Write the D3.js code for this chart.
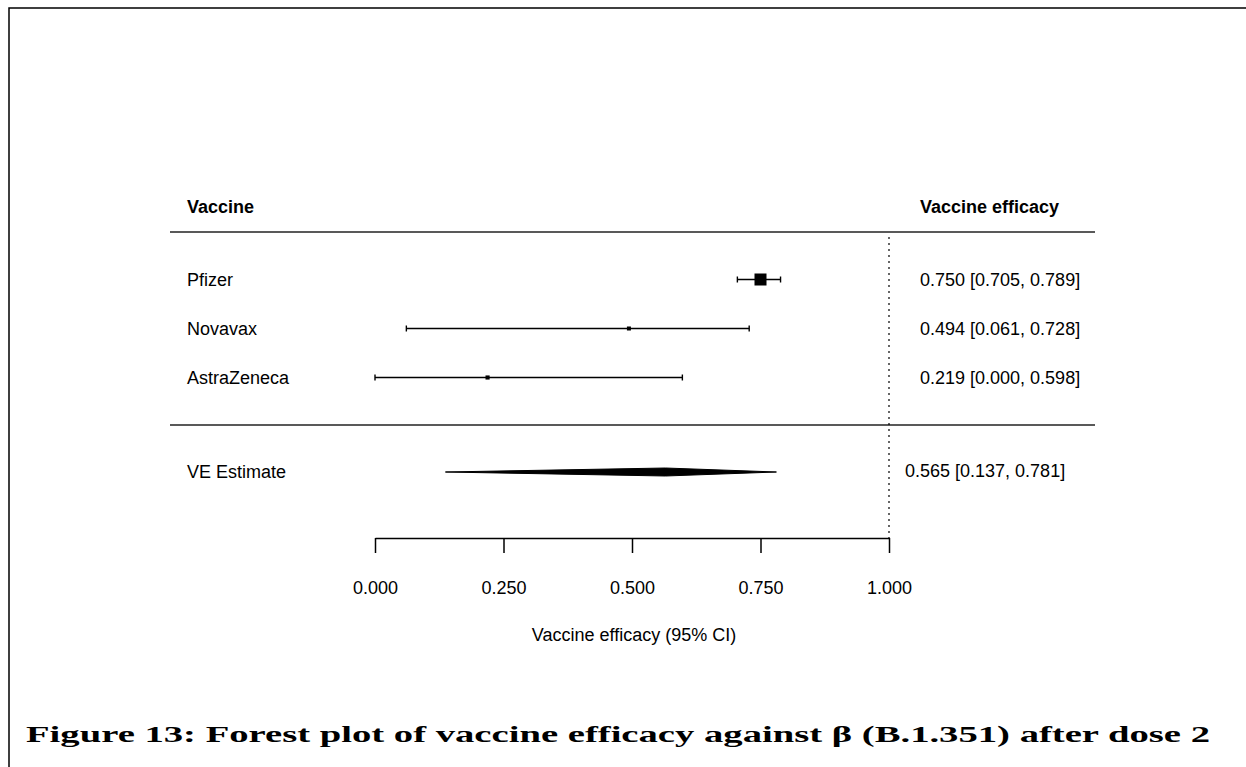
<!DOCTYPE html>
<html>
<head>
<meta charset="utf-8">
<script src="https://cdn.jsdelivr.net/npm/d3@7"></script>
<style>
  body { margin: 0; background: #fff; }
  svg { display: block; }
  .lbl { font-family: "Liberation Sans", Arial, sans-serif; font-size: 18px; fill: #000; }
</style>
</head>
<body>
<div id="chart"></div>
<script>
const vaccines = ["Pfizer", "Novavax", "AstraZeneca"];
const estimates = [0.750, 0.494, 0.219];
const lower = [0.705, 0.061, 0.000];
const upper = [0.789, 0.728, 0.598];

const summaryLabel = "VE Estimate";
const summary = [0.565, 0.137, 0.781]; // est, lb, ub

const ticks = [0, 0.25, 0.5, 0.75, 1];

const width = 1246;
const height = 767;

const svg = d3.select('#chart')
  .append('svg')
  .attr('width', width)
  .attr('height', height)

// page frame
svg.append('path')
  .attr('d', `M9,${height} V8 H${width}`)
  .attr('fill', 'none')
  .attr('stroke', '#000')
  .attr('stroke-width', 1.5)

const x = d3.scaleLinear().domain([0, 1]).range([375, 889]);
const y = d3.scaleBand().domain(vaccines).range([255, 402]);
const fmt = d3.format('.3f');

// box sizes from precision (1/se)
const prec = vaccines.map((d, i) => 3.92 / (upper[i] - lower[i]));
const size = d3.scaleLinear().domain(d3.extent(prec)).range([4, 12]);

// headers
svg.append('text').attr('class', 'lbl').attr('x', 187).attr('y', 213)
  .style('font-weight', 'bold').text('Vaccine')
svg.append('text').attr('class', 'lbl').attr('x', 920).attr('y', 213)
  .style('font-weight', 'bold').text('Vaccine efficacy')

svg.selectAll('.hline')
  .data([232, 425])
  .enter()
  .append('line')
  .attr('x1', 170).attr('x2', 1095)
  .attr('y1', d => d).attr('y2', d => d)
  .attr('stroke', '#222')
  .attr('stroke-width', 1.5)

// reference line at 1
svg.append('line')
  .attr('x1', x(1)).attr('x2', x(1))
  .attr('y1', 237).attr('y2', 538)
  .attr('stroke', '#000')
  .attr('stroke-width', 1.2)
  .attr('stroke-dasharray', '2,4')

const rows = svg.selectAll('.row')
  .data(vaccines)
  .enter()
  .append('g')
  .attr('class', 'row')
  .attr('transform', d => `translate(0, ${y(d) + y.bandwidth() / 2})`)

rows.append('text').attr('class', 'lbl')
  .attr('x', 187).attr('dy', '0.35em')
  .text(d => d)

rows.append('line')
  .attr('x1', (d, i) => x(lower[i]))
  .attr('x2', (d, i) => x(upper[i]))
  .attr('stroke', '#000').attr('stroke-width', 1.4)

rows.selectAll('.cap')
  .data((d, i) => [lower[i], upper[i]])
  .enter()
  .append('line')
  .attr('x1', d => x(d)).attr('x2', d => x(d))
  .attr('y1', -3).attr('y2', 3)
  .attr('stroke', '#000').attr('stroke-width', 1.4)

rows.append('rect')
  .attr('x', (d, i) => x(estimates[i]) - size(prec[i]) / 2)
  .attr('y', (d, i) => -size(prec[i]) / 2)
  .attr('width', (d, i) => size(prec[i]))
  .attr('height', (d, i) => size(prec[i]))
  .attr('fill', '#000')

rows.append('text').attr('class', 'lbl')
  .attr('x', 920).attr('dy', '0.35em')
  .text((d, i) => `${fmt(estimates[i])} [${fmt(lower[i])}, ${fmt(upper[i])}]`)

// summary diamond
const sy = 472;
svg.append('text').attr('class', 'lbl')
  .attr('x', 187).attr('y', sy).attr('dy', '0.35em')
  .text(summaryLabel)

svg.append('path')
  .attr('d', `M${x(summary[1])},${sy} L${x(summary[0])},${sy - 4} L${x(summary[2])},${sy} L${x(summary[0])},${sy + 4} Z`)
  .attr('fill', '#000')
  .attr('stroke', '#000')
  .attr('stroke-width', 1)

svg.append('text').attr('class', 'lbl')
  .attr('x', 905).attr('y', sy - 1).attr('dy', '0.35em')
  .text(`${fmt(summary[0])} [${fmt(summary[1])}, ${fmt(summary[2])}]`)

// axis
const xAxis = d3.axisBottom(x)
  .tickValues(ticks)
  .tickFormat(fmt)
  .tickSize(15)
  .tickPadding(28)
  .tickSizeOuter(0)

const ax = svg.append('g')
  .attr('transform', 'translate(0, 538)')
  .call(xAxis)
ax.select('.domain').attr('stroke-width', 1.5)
ax.selectAll('.tick line').attr('stroke-width', 1.5)
ax.selectAll('.tick text')
  .attr('class', 'lbl')
  .attr('fill', '#000')
  .style('font-size', '18px')

svg.append('text').attr('class', 'lbl')
  .attr('x', 634).attr('y', 641)
  .attr('text-anchor', 'middle')
  .text('Vaccine efficacy (95% CI)')

// caption
svg.append('text')
  .attr('x', 26).attr('y', 742)
  .attr('textLength', 1184)
  .attr('lengthAdjust', 'spacingAndGlyphs')
  .style('font-family', '"Liberation Serif", "DejaVu Serif", serif')
  .style('font-weight', 'bold')
  .style('font-size', '24px')
  .text('Figure 13: Forest plot of vaccine efficacy against β (B.1.351) after dose 2')
</script>
</body>
</html>
